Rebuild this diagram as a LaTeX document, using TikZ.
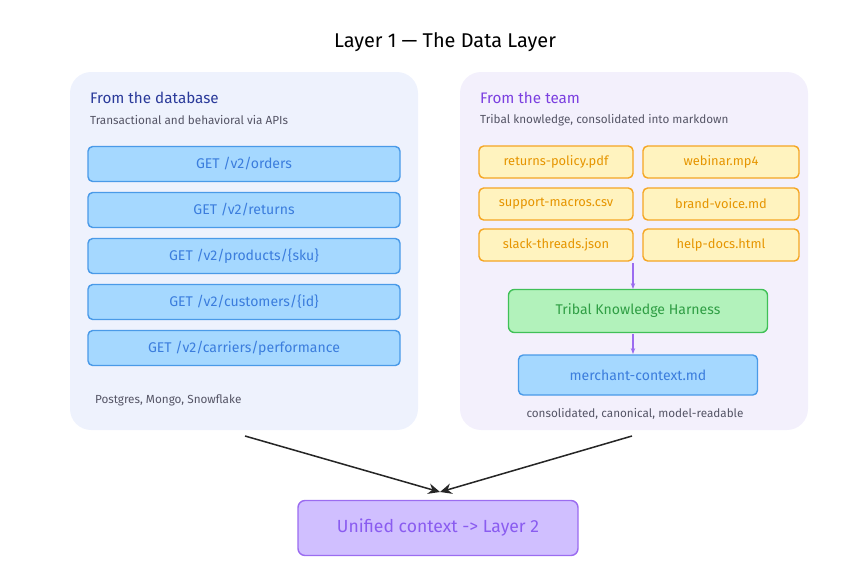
\documentclass[tikz,border=0pt]{standalone}
\usepackage{fontspec}
\setmainfont{Fira Sans}
\usetikzlibrary{arrows.meta}
\definecolor{panelA}{HTML}{EEF2FD}
\definecolor{panelB}{HTML}{F3F0FC}
\definecolor{bluef}{HTML}{A5D8FF}
\definecolor{blued}{HTML}{4A9AE8}
\definecolor{bluet}{HTML}{3B7DDD}
\definecolor{yelf}{HTML}{FFF3BF}
\definecolor{yeld}{HTML}{F5A623}
\definecolor{yelt}{HTML}{E69500}
\definecolor{grnf}{HTML}{B2F2BB}
\definecolor{grnd}{HTML}{40C057}
\definecolor{grnt}{HTML}{2F9E44}
\definecolor{purf}{HTML}{D0BFFF}
\definecolor{purd}{HTML}{9B6CF0}
\definecolor{purt}{HTML}{8A5CF0}
\definecolor{hdA}{HTML}{2A3A9A}
\definecolor{hdB}{HTML}{7B3FE0}
\definecolor{grayt}{HTML}{555566}
\tikzset{
 x=0.03cm,y=-0.03cm,
 api/.style={draw=blued,fill=bluef,line width=1.2pt,rounded corners=4pt,text=bluet,font=\fontsize{12}{14}\selectfont},
 file/.style={draw=yeld,fill=yelf,line width=1.2pt,rounded corners=4pt,text=yelt,font=\fontsize{11}{13}\selectfont},
 harness/.style={draw=grnd,fill=grnf,line width=1.2pt,rounded corners=5pt,text=grnt,font=\fontsize{12}{14}\selectfont},
 final/.style={draw=purd,fill=purf,line width=1.2pt,rounded corners=6pt,text=purt,font=\fontsize{15}{18}\selectfont},
 hd/.style={anchor=west,font=\fontsize{13}{15}\selectfont},
 sub/.style={anchor=west,text=grayt,font=\fontsize{10}{12}\selectfont},
 parr/.style={draw=purd,line width=1pt,-{Stealth[length=5pt]}},
 barr/.style={draw=black!85,line width=1.3pt,-{Stealth[length=10pt,width=9pt]}}
}
\begin{document}
\begin{tikzpicture}
\useasboundingbox (0,0) rectangle (855,587);
\node[font=\fontsize{17}{20}\selectfont] (title) at (445,42) {Layer 1 — The Data Layer};
\fill[panelA,rounded corners=18pt] (70,72) rectangle (418,430);
\fill[panelB,rounded corners=18pt] (460,72) rectangle (808,430);
\node[hd,text=hdA] (hA) at (86,98) {From the database};
\node[sub] (sA) at (86,120) {Transactional and behavioral via APIs};
\foreach \y/\t [count=\i] in {164/{GET /v2/orders},210/{GET /v2/returns},256/{GET /v2/products/\{sku\}},302/{GET /v2/customers/\{id\}},348/{GET /v2/carriers/performance}}
  \node[api,minimum width=312*0.03cm,minimum height=35*0.03cm] (api\i) at (244,\y) {\t};
\node[sub] (fA) at (91,400) {Postgres, Mongo, Snowflake};
\node[hd,text=hdB] (hB) at (476,98) {From the team};
\node[sub] (sB) at (476,120) {Tribal knowledge, consolidated into markdown};
\node[file,minimum width=154*0.03cm,minimum height=32*0.03cm] (f1) at (556,162) {returns-policy.pdf};
\node[file,minimum width=156*0.03cm,minimum height=32*0.03cm] (f2) at (721,162) {webinar.mp4};
\node[file,minimum width=154*0.03cm,minimum height=32*0.03cm] (f3) at (556,204) {support-macros.csv};
\node[file,minimum width=156*0.03cm,minimum height=32*0.03cm] (f4) at (721,204) {brand-voice.md};
\node[file,minimum width=154*0.03cm,minimum height=32*0.03cm] (f5) at (556,245) {slack-threads.json};
\node[file,minimum width=156*0.03cm,minimum height=32*0.03cm] (f6) at (721,245) {help-docs.html};
\coordinate (fb) at (633,263);
\node[harness,minimum width=259*0.03cm,minimum height=43*0.03cm] (h) at (638,311) {Tribal Knowledge Harness};
\node[api,minimum width=239*0.03cm,minimum height=40*0.03cm] (m) at (638,375) {merchant-context.md};
\node[sub,anchor=center] (fB) at (635,414) {consolidated, canonical, model-readable};
\draw[parr] (fb) -- (633,289);
\draw[parr] (633,334) -- (633,354);
\node[final,minimum width=280*0.03cm,minimum height=55*0.03cm] (u) at (438,528) {Unified context -> Layer 2};
\coordinate (la) at (245,436);
\coordinate (ra) at (632,436);
\coordinate (meet) at (440,492);
\draw[barr] (la) -- (meet);
\draw[barr] (ra) -- (meet);
\end{tikzpicture}
\end{document}
